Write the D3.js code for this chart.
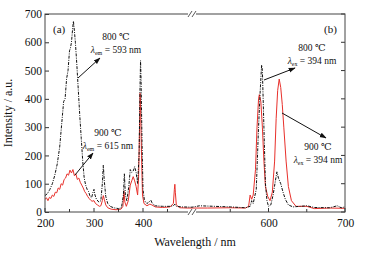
<!DOCTYPE html>
<html>
<head>
<meta charset="utf-8">
<script src="https://cdn.jsdelivr.net/npm/d3@7"></script>
<style>
  body { margin: 0; background: #fff; }
  text { font-family: "Liberation Serif", "DejaVu Serif", serif; fill: #111; }
</style>
</head>
<body>
<svg id="chart"></svg>
<script>
// wavelength (nm), intensity (a.u.)
const wl800 = [200,205,210,215,220,225,230,235,238,241,244,247,250,252,254,256,258,260,262,265,268,271,274,277,280,283,286,289,292,295,298,300,302,305,310,314,317,319,321,324,328,333,340,350,356,360,362,364,367,371,374,377,380,383,386,389,392,394,395,396,398,400,403,408,412,416,419,425,440,455,462,465,468,480,500,
  510,530,550,570,576,578,580,584,587,589,591,592,594,596,598,600,603,606,609,611,613,616,619,622,626,632,650,660,680,690,695,700];
const int800 = [58,65,80,100,130,170,230,330,390,400,470,500,570,580,600,640,675,640,600,520,430,340,260,180,120,95,80,72,55,50,70,80,60,45,35,40,100,165,110,55,30,20,15,12,15,60,135,60,40,90,150,140,145,160,140,100,200,450,535,470,250,80,40,30,35,42,30,22,20,20,22,28,20,18,17,
  22,20,18,15,20,40,30,80,300,420,520,500,300,100,40,20,25,60,110,142,120,100,70,45,25,18,22,16,15,22,15,18];

const wl900 = [200,203,206,209,212,215,218,221,224,227,230,233,236,239,242,245,248,251,254,257,260,263,266,269,272,275,278,281,284,287,290,293,296,300,303,307,311,314,317,319,321,324,328,335,345,355,359,361,363,366,370,374,377,380,383,386,389,391,393,394,395,397,399,402,408,414,418,425,440,455,462,464,465,466,468,475,490,500,
  520,550,570,574,576,578,580,583,585,587,588,590,592,594,596,599,602,605,608,610,612,614,616,618,620,623,626,630,636,650,660,680,700];
const int900 = [45,50,40,52,48,60,55,70,68,85,80,100,95,115,120,135,130,148,138,150,128,135,115,120,105,95,85,72,65,55,48,42,38,40,30,25,20,22,40,58,45,25,15,10,8,10,20,75,35,20,40,95,110,125,110,90,60,120,300,420,380,200,60,30,22,28,25,18,16,18,30,80,98,70,25,15,14,14,
  14,15,14,20,60,45,60,150,300,400,415,390,300,180,90,55,40,70,180,330,430,470,440,380,300,180,90,40,20,20,12,14,13];

const xTicks = [200, 300, 400, 600, 700];
const xMinor = [250, 350, 450, 550, 650];
const yTicks = [0, 100, 200, 300, 400, 500, 600, 700];

const W = 374, H = 255;
const margin = {top: 14, right: 29, bottom: 43, left: 45};
const width = W - margin.left - margin.right,
  height = H - margin.top - margin.bottom;

const svg = d3.select('#chart').attr('width', W).attr('height', H);
const g = svg.append('g').attr('transform', `translate(${margin.left},${margin.top})`);

// broken axis: 200-500 on the left part, 500-700 on the right part
const brk = 147;
const x = d3.scaleLinear().domain([200, 500, 700]).range([0, brk, width]);
const y = d3.scaleLinear().domain([0, 700]).range([height, 0]);

const defs = svg.append('defs');
defs.append('clipPath').attr('id', 'clip')
  .append('rect').attr('width', width).attr('height', height);
defs.append('marker')
  .attr('id', 'arrow').attr('viewBox', '0 0 10 10')
  .attr('refX', 9).attr('refY', 5)
  .attr('markerWidth', 7).attr('markerHeight', 7)
  .attr('orient', 'auto')
  .append('path').attr('d', 'M0,1.5L10,5L0,8.5z').attr('fill', '#111');

const line = d3.line().x(d => x(d[0])).y(d => y(d[1]));

const plot = g.append('g').attr('clip-path', 'url(#clip)');
plot.append('path')
  .datum(d3.zip(wl900, int900))
  .attr('fill', 'none').attr('stroke', '#e8302b').attr('stroke-width', 1)
  .attr('d', line);
plot.append('path')
  .datum(d3.zip(wl800, int800))
  .attr('fill', 'none').attr('stroke', '#111').attr('stroke-width', 1)
  .attr('stroke-dasharray', '3,1.2,1,1.2')
  .attr('d', line);

// axes
const xAxis = g.append('g').attr('transform', `translate(0,${height})`)
  .call(d3.axisBottom(x).tickValues(xTicks).tickSize(0).tickPadding(7));
xAxis.select('.domain').remove();
xAxis.selectAll('text').style('font-size', '11.5px');

g.append('g').selectAll('line')
  .data(xTicks.concat(xMinor)).join('line')
  .attr('x1', d => x(d)).attr('x2', d => x(d))
  .attr('y1', height).attr('y2', d => height - (xTicks.includes(d) ? 4 : 3))
  .attr('stroke', '#333');

const yAxis = g.append('g')
  .call(d3.axisLeft(y).tickValues(yTicks).tickSize(-4).tickPadding(3));
yAxis.select('.domain').remove();
yAxis.selectAll('line').attr('stroke', '#333');
yAxis.selectAll('text').style('font-size', '11.5px');

g.append('g').selectAll('line')
  .data(yTicks).join('line')
  .attr('x1', width).attr('x2', width - 4)
  .attr('y1', d => y(d)).attr('y2', d => y(d))
  .attr('stroke', '#333');

// frame
g.append('rect').attr('width', width).attr('height', height)
  .attr('fill', 'none').attr('stroke', '#444').attr('stroke-width', 1);

// break marks
[0, height].forEach(yy => {
  g.append('rect').attr('x', brk - 4).attr('y', yy - 2).attr('width', 8).attr('height', 4)
    .attr('fill', '#fff');
  [-2, 2].forEach(dx => {
    g.append('line')
      .attr('x1', brk + dx - 2).attr('y1', yy + 3)
      .attr('x2', brk + dx + 2).attr('y2', yy - 3)
      .attr('stroke', '#444').attr('stroke-width', 0.9);
  });
});

// axis titles
svg.append('text')
  .attr('x', margin.left + width / 2).attr('y', 246)
  .attr('text-anchor', 'middle').style('font-size', '12px')
  .text('Wavelength / nm');
svg.append('text')
  .attr('transform', `translate(12,${margin.top + height / 2}) rotate(-90)`)
  .attr('text-anchor', 'middle').style('font-size', '12px')
  .text('Intensity / a.u.');

// annotations
function label(px, py, temp, sub, val) {
  svg.append('text').attr('x', px).attr('y', py)
    .attr('text-anchor', 'middle').style('font-size', '9.5px')
    .text(temp + ' \u2103');
  const t = svg.append('text').attr('x', px).attr('y', py + 13)
    .attr('text-anchor', 'middle').style('font-size', '9.5px');
  t.append('tspan').style('font-style', 'italic').text('\u03bb');
  t.append('tspan').attr('dy', 2).style('font-size', '6px').text(sub);
  t.append('tspan').attr('dy', -2).text(' = ' + val + ' nm');
}
function arrow(x1, y1, x2, y2) {
  svg.append('line')
    .attr('x1', x1).attr('y1', y1).attr('x2', x2).attr('y2', y2)
    .attr('stroke', '#111').attr('stroke-width', 1)
    .attr('marker-end', 'url(#arrow)');
}

svg.append('text').attr('x', 53).attr('y', 33).style('font-size', '11px').text('(a)');
svg.append('text').attr('x', 324).attr('y', 33).style('font-size', '11px').text('(b)');

label(116, 40, '800', 'em', '593');
arrow(78, 78, 100, 58);
label(108, 136, '900', 'em', '615');
arrow(75, 175, 93, 153);
label(312, 51, '800', 'ex', '394');
arrow(264, 80, 295, 68);
label(318, 150, '900', 'ex', '394');
arrow(282, 113, 326, 138);
</script>
</body>
</html>
